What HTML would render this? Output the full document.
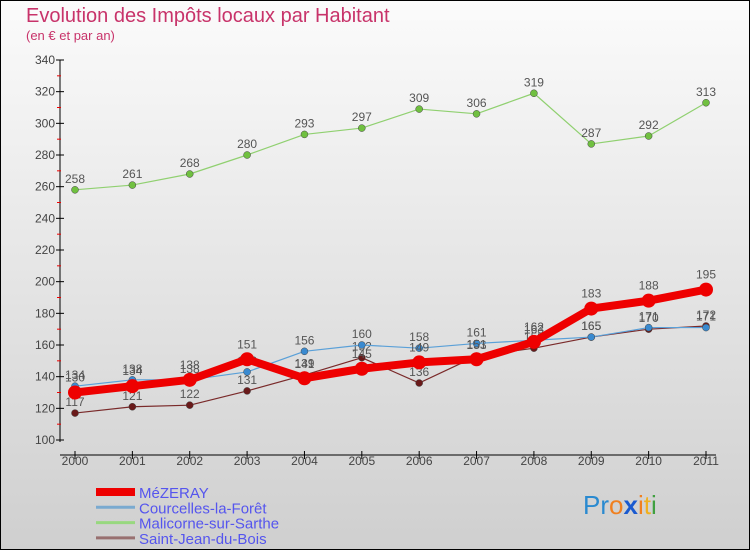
<!DOCTYPE html>
<html><head><meta charset="utf-8"><style>
html,body{margin:0;padding:0;}
body{width:750px;height:550px;overflow:hidden;font-family:"Liberation Sans",sans-serif;}
</style></head><body>
<svg id="chart" width="750" height="550" xmlns="http://www.w3.org/2000/svg" font-family="Liberation Sans, sans-serif">
<defs><linearGradient id="bg" x1="0" y1="0" x2="0" y2="1"><stop offset="0" stop-color="#fbfbfb"/><stop offset="1" stop-color="#cfcfcf"/></linearGradient></defs>
<rect x="0.5" y="0.5" width="749" height="549" fill="url(#bg)" stroke="#000"/>
<text x="26" y="22" font-size="20" fill="#c8336a">Evolution des Impôts locaux par Habitant</text>
<text x="26" y="40" font-size="13" fill="#c8336a">(en € et par an)</text>
<g id="axes"></g><g id="series"></g><g id="legend"></g>
<text x="583" y="514" font-size="26"><tspan fill="#2a8ad0">Pr</tspan><tspan fill="#f08020">o</tspan><tspan fill="#1a5ad0" font-weight="bold">x</tspan><tspan fill="#f08020">i</tspan><tspan fill="#f0b020">t</tspan><tspan fill="#40a040">i</tspan></text>
</svg>
<script>
const years=["2000","2001","2002","2003","2004","2005","2006","2007","2008","2009","2010","2011"];
const yTicks=[100,120,140,160,180,200,220,240,260,280,300,320,340];
const mezeray=[130,134,138,151,139,145,149,151,162,183,188,195];
const courcelles=[134,138,138,143,156,160,158,161,163,165,171,171];
const malicorne=[258,261,268,280,293,297,309,306,319,287,292,313];
const saintJean=[117,121,122,131,141,152,136,153,158,165,170,172];
const seriesNames=["MéZERAY","Courcelles-la-Forêt","Malicorne-sur-Sarthe","Saint-Jean-du-Bois"];
const NS="http://www.w3.org/2000/svg";
const X0=75,X1=706,Y0=440,Y1=60,VMIN=100,VMAX=340;
function xs(i){return X0+(X1-X0)*i/(years.length-1);}
function ys(v){return Y0-(v-VMIN)*(Y0-Y1)/(VMAX-VMIN);}
function mk(tag,parent,attrs){const e=document.createElementNS(NS,tag);for(const k in attrs)e.setAttribute(k,attrs[k]);parent.appendChild(e);return e;}
const axes=document.getElementById('axes');
let a=mk('line',axes,{x1:60,y1:Y1,x2:60,y2:Y0+2,stroke:'#000'});


let b=mk('line',axes,{x1:60,y1:Y0+15,x2:X1+10,y2:Y0+15,stroke:'#000'});


yTicks.forEach((t,i)=>{
 const y=ys(t);
 mk('line',axes,{x1:56,y1:y,x2:64,y2:y,stroke:'#000'});
 if(i<yTicks.length-1)mk('line',axes,{x1:57,y1:ys(t+10),x2:61,y2:ys(t+10),stroke:'#e00'});
 const tx=mk('text',axes,{x:55,y:y+4,'font-size':12,'text-anchor':'end',fill:'#444'});
 tx.textContent=t;
 
 
});
years.forEach((yr,i)=>{
 const x=xs(i);
 mk('line',axes,{x1:x,y1:Y0+11,x2:x,y2:Y0+19,stroke:'#000'});
 const tx=mk('text',axes,{x:x,y:Y0+25,'font-size':12,'text-anchor':'middle',fill:'#444'});
 tx.textContent=yr;
 
 
});
const sg=document.getElementById('series');
const defs=[
 {d:saintJean,c:'#7a2a2a',w:1.2,r:3.5,fc:'#6a1a1a',name:'saint-jean-du-bois'},
 {d:malicorne,c:'#90d070',w:1.2,r:3.5,fc:'#70c040',name:'malicorne-sur-sarthe'},
 {d:courcelles,c:'#5aa0d8',w:1.2,r:3.5,fc:'#3a8ad0',name:'courcelles-la-foret'},
 {d:mezeray,c:'#ee0000',w:8,r:7,fc:'#ee0000',name:'mezeray'}
];
defs.forEach(s=>{
 const g=mk('g',sg,{});
 
 
 const p=mk('polyline',g,{points:s.d.map((v,i)=>xs(i)+','+ys(v)).join(' '),fill:'none',stroke:s.c,'stroke-width':s.w,'stroke-linejoin':'round'});
 
 
 s.d.forEach((v,i)=>{
  const c=mk('circle',g,{cx:xs(i),cy:ys(v),r:s.r,fill:s.fc,stroke:s.w>2?'none':'#444','stroke-width':0.5});
  
  
  const t=mk('text',g,{x:xs(i),y:ys(v)-(s.w>2?11:7),'font-size':12,'text-anchor':'middle',fill:'#555'});
  t.textContent=v;
  
  
 });
});
const lg=document.getElementById('legend');
const lc=['#ee0000','#7aaad0','#98d880','#987070'];const lw=[8,3,3,3];
seriesNames.forEach((n,i)=>{
 const y=492+i*15.3;
 const l=mk('line',lg,{x1:96,y1:y,x2:135,y2:y,stroke:lc[i],'stroke-width':lw[i]});
 
 
 const t=mk('text',lg,{x:139,y:y+6,'font-size':15,fill:'#5555ee'});
 t.textContent=n;
 
 
});
</script>
</body></html>
